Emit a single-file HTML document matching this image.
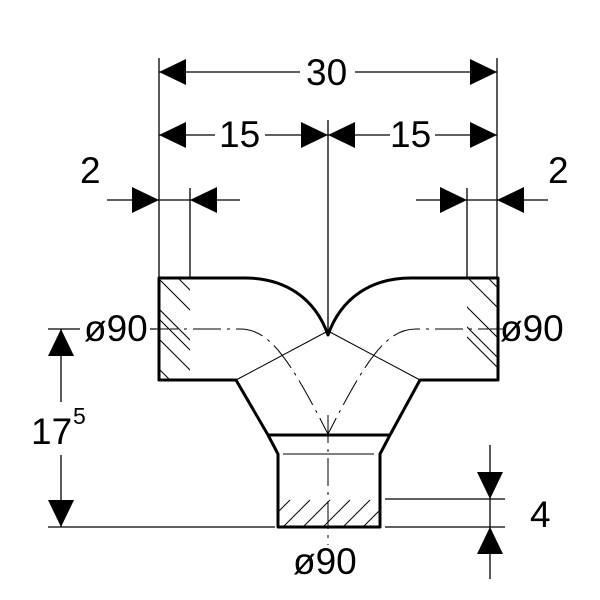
<!DOCTYPE html>
<html><head><style>html,body{margin:0;padding:0;background:#fff}svg{display:block}text{font-family:"Liberation Sans",sans-serif;fill:#000}</style></head>
<body>
<svg width="600" height="600" viewBox="0 0 600 600" xmlns="http://www.w3.org/2000/svg">
<defs>
<clipPath id="cl"><rect x="159" y="278" width="31" height="102"/></clipPath>
<clipPath id="cr"><rect x="467" y="278" width="31" height="102"/></clipPath>
<clipPath id="cb"><rect x="279" y="498" width="100" height="29"/></clipPath>
</defs>
<g stroke="#000" fill="none">
<g stroke-width="1" clip-path="url(#cl)">
<path d="M140,260 L240,360 M140,290 L240,390 M140,320 L240,420 M140,350 L240,450 M160,260 L260,360 M110,270 L210,370"/>
</g>
<g stroke-width="1" clip-path="url(#cr)">
<path d="M450,260 L550,360 M450,290 L550,390 M450,320 L550,420 M470,260 L570,360 M430,270 L530,370 M440,300 L540,400"/>
</g>
<g stroke-width="1" clip-path="url(#cb)">
<path d="M280,530 L310,500 M300,530 L330,500 M320,530 L350,500 M340,530 L370,500 M360,530 L390,500 M260,530 L290,500"/>
</g>
<path stroke-width="3" stroke-linejoin="round" d="M159,278 H245 C285,278 315,298 328,335 C341,298 371,278 411,278 H498 V380 H420 L390,435 L380,454 V527 H278 V454 L268,435 L236,380 H159 Z"/>
<path stroke-width="3" d="M268,435 H390"/>
<path stroke-width="1" d="M283,454 H374 M236,380 L328,331 L420,380"/>
<path stroke-width="1" stroke-dasharray="28,6,3,6" d="M150,329 H240 C270,329 290,360 328,434"/>
<path stroke-width="1" stroke-dasharray="28,6,3,6" d="M506,329 H416 C386,329 366,360 328,434"/>
<path stroke-width="1" stroke-dasharray="28,6,3,6" d="M328,415 V545"/>
<path stroke-width="1.3" d="M159,58 V278 M190,188 V278 M328,120 V335 M467,188 V278 M497,58 V278"/>
<path stroke-width="1.3" d="M48,329 H80 M150,329 H156 M48,527 H275 M385,527 H505 M385,499 H505"/>
<path stroke-width="1.3" d="M159,72 H300 M355,72 H497 M159,135 H215 M265,135 H328 M328,135 H390 M435,135 H497 M107,200 H240 M416,200 H548 M61,329 V402 M61,455 V527 M490,445 V579"/>
</g>
<g fill="#000">
<path d="M159,72 l27,-13 v26z M497,72 l-27,-13 v26z"/>
<path d="M159,135 l27,-13 v26z M328,135 l-27,-13 v26z M328,135 l27,-13 v26z M497,135 l-27,-13 v26z"/>
<path d="M159,200 l-27,-13 v26z M190,200 l27,-13 v26z M467,200 l-27,-13 v26z M497,200 l27,-13 v26z"/>
<path d="M61,329 l-13,27 h26z M61,527 l-13,-27 h26z"/>
<path d="M490,499 l-13,-27 h26z M490,527 l-13,27 h26z"/>
</g>
<g font-size="37">
<text x="306" y="85">30</text>
<text x="219" y="147">15</text>
<text x="390" y="147">15</text>
<text x="80" y="183">2</text>
<text x="548" y="183">2</text>
<text x="84" y="341">ø90</text>
<text x="500" y="341">ø90</text>
<text x="31" y="444">17</text>
<text x="73" y="424" font-size="23">5</text>
<text x="530" y="527">4</text>
<text x="293" y="574">ø90</text>
</g>
</svg>
</body></html>
